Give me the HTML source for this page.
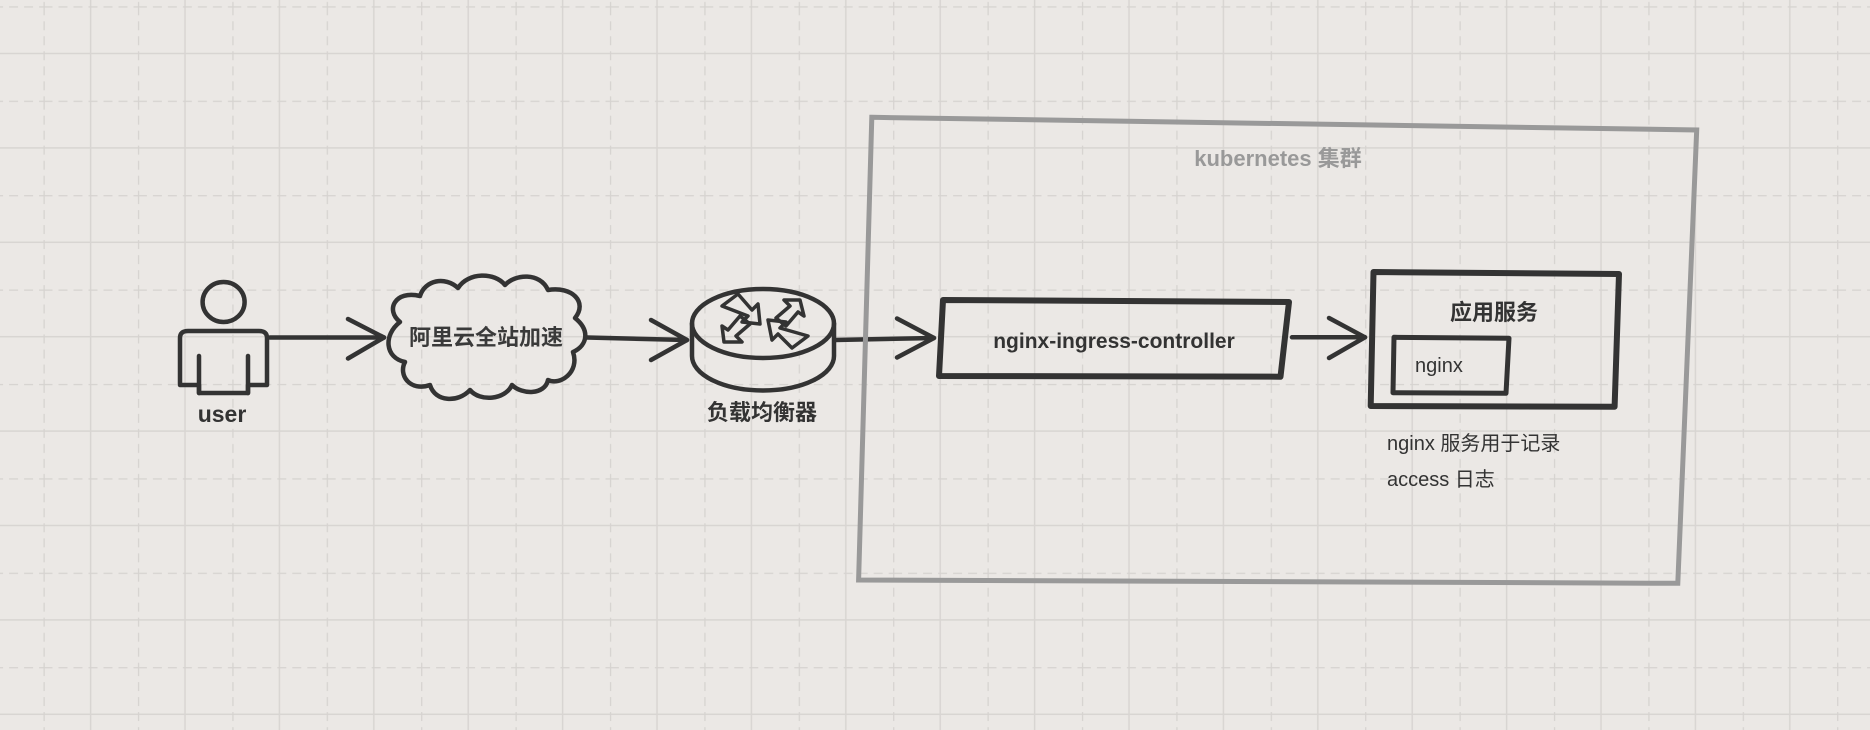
<!DOCTYPE html>
<html><head><meta charset="utf-8"><style>
html,body{margin:0;padding:0;background:#ebe8e5;}
svg{display:block}
</style></head><body>
<svg width="1870" height="730" viewBox="0 0 1870 730" xmlns="http://www.w3.org/2000/svg">
<defs>
<pattern id="g" x="43.5" y="6.3" width="94.4" height="94.4" patternUnits="userSpaceOnUse">
<line x1="47.1" y1="0" x2="47.1" y2="94.4" stroke="#d8d5d2" stroke-width="1.5"/>
<line x1="0" y1="47.2" x2="94.4" y2="47.2" stroke="#d8d5d2" stroke-width="1.5"/>
<line x1="0.5" y1="0" x2="0.5" y2="94.4" stroke="#d6d3d0" stroke-width="1.5" stroke-dasharray="9,6"/>
<line x1="0" y1="0.5" x2="94.4" y2="0.5" stroke="#d6d3d0" stroke-width="1.5" stroke-dasharray="9,6"/>
</pattern>
</defs>
<rect width="1870" height="730" fill="#ebe8e5"/>
<rect width="1870" height="730" fill="url(#g)"/>

<g fill="none" stroke="#333" stroke-width="4.5" stroke-linejoin="round" stroke-linecap="round">
<!-- user -->
<ellipse cx="223.6" cy="302" rx="21" ry="20"/>
<path d="M180,385 L180,338 Q180,331 188,331 L259,331 Q267,331 267,338 L267,385 L248,385 L248,393 L199,393 L199,385 Z"/>
<line x1="199" y1="356" x2="199" y2="393"/>
<line x1="248" y1="356" x2="248" y2="393"/>
<!-- arrow1 -->
<line x1="270" y1="337.5" x2="384" y2="337.5"/>
<polyline points="348,319 384,337.5 348,358.5"/>
<!-- cloud -->
<path d="M400,322 C385,310 395,290 420,296 C425,280 445,276 458,288 C468,272 495,272 505,285 C515,274 540,272 548,290 C572,286 588,302 575,318 C590,330 588,345 573,352 C580,372 560,386 548,380 C545,395 522,395 512,385 C505,400 480,402 470,390 C458,403 435,402 430,385 C410,392 398,375 405,362 C385,358 383,335 400,322 Z"/>
<!-- arrow2 -->
<line x1="587" y1="337.5" x2="687" y2="340"/>
<polyline points="651,320 687,340 651,360"/>
<!-- router -->
<ellipse cx="763" cy="323.5" rx="71" ry="34.5"/>
<path d="M692,323.5 L692,356 A71,34.5 0 0 0 834,356 L834,323.5"/>
<g stroke-width="3.5">
<path d="M722,306 L738,294 L752,310 L758,304 L760,324 L742,322 L748,316 Z"/>
<path d="M724,342 L722,326 L728,330 L740,316 L750,324 L736,336 L742,342 Z"/>
<path d="M800,300 L804,316 L798,312 L786,326 L776,318 L790,306 L784,300 Z"/>
<path d="M808,336 L792,348 L778,334 L772,340 L768,320 L786,322 L780,328 Z"/>
</g>
<!-- arrow3 -->
<line x1="835" y1="340" x2="934" y2="338"/>
<polyline points="897,318.5 934,338 897,357.5"/>
<!-- nginx-ingress box -->
<path d="M943,300 L1289,302 L1280.5,376.7 L939,376 Z" stroke-width="6"/>
<!-- arrow4 -->
<line x1="1292" y1="337.3" x2="1365" y2="337.3"/>
<polyline points="1329,318 1365,337.3 1329,358"/>
<!-- app box -->
<path d="M1373.5,272 L1619,274 L1614.6,406.7 L1370.7,406 Z" stroke-width="6"/>
<path d="M1394,337.3 L1509,338.3 L1506,393.3 L1393,392.7 Z" stroke-width="5"/>
</g>
<!-- k8s box -->
<path d="M871.8,117.3 L1696.7,130 L1677.8,583.3 L858.6,580 Z" fill="none" stroke="#999" stroke-width="5"/>

<g font-family="Liberation Sans, 'Noto Sans CJK SC', sans-serif" fill="#333" text-anchor="middle">
<text x="222" y="422" font-size="23" font-weight="bold">user</text>
<text x="486" y="345" font-size="22" font-weight="bold" fill="#3a3a3a">阿里云全站加速</text>
<text x="762" y="420" font-size="22" font-weight="bold">负载均衡器</text>
<text x="1278" y="166" font-size="22" font-weight="bold" fill="#999">kubernetes 集群</text>
<text x="1114" y="348" font-size="21" font-weight="bold">nginx-ingress-controller</text>
<text x="1494" y="320" font-size="22" font-weight="bold">应用服务</text>
<text x="1415" y="372" font-size="20" text-anchor="start">nginx</text>
<text x="1387" y="450" font-size="20" text-anchor="start">nginx 服务用于记录</text>
<text x="1387" y="486" font-size="20" text-anchor="start">access 日志</text>
</g>
</svg>
</body></html>
